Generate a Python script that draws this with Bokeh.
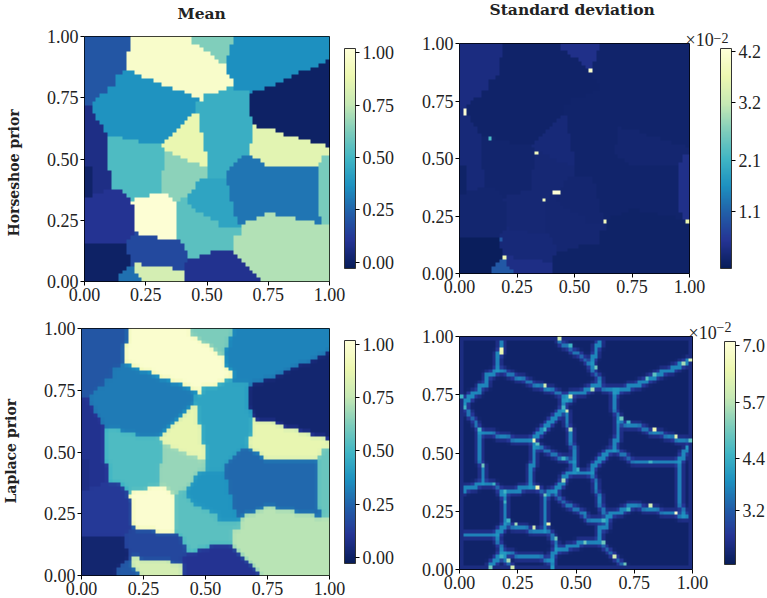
import numpy as np
from bokeh.embed import file_html
from bokeh.layouts import column, row
from bokeh.models import ColorBar, FixedTicker, Label, LinearColorMapper, PrintfTickFormatter, Range1d
from bokeh.plotting import figure
from bokeh.resources import INLINE

# Colour anchors (YlGnBu reversed)
ANCHORS = ["#081d58", "#253494", "#225ea8", "#1d91c0", "#41b6c4", "#7fcdbb", "#c7e9b4", "#edf8b1", "#ffffd9"]

# Region outlines on a ruler where x 73..808 and y 780..46 span the axes
R_TOPLEFT = [(73,46),(210,46),(210,90),(198,90),(198,148),(175,160),(165,170),(165,195),(140,195),(140,215),(105,230),(95,255),(73,252)]
R_CREAM_TOP = [(210,46),(395,46),(395,65),(440,90),(480,125),(500,130),(500,150),(522,185),(488,207),(430,225),(425,240),(418,232),(360,210),(280,180),(225,158),(198,148),(198,90),(210,90)]
R_TEAL_TOP = [(395,46),(522,46),(510,95),(500,112),(500,130),(480,125),(440,90),(395,65)]
R_BLUE_TOPRIGHT = [(522,46),(808,46),(808,112),(745,145),(640,190),(570,215),(555,205),(525,205),(522,185),(500,150),(500,112),(510,95)]
R_BLUE_LEFT = [(198,148),(225,158),(280,180),(360,210),(418,232),(405,262),(395,285),(350,320),(310,365),(255,365),(185,350),(140,345),(130,310),(105,285),(95,255),(105,230),(140,215),(140,195),(165,195),(165,170),(175,160)]
R_STRIP = [(73,252),(95,255),(105,285),(130,310),(140,345),(140,450),(153,450),(153,505),(73,528)]
R_PATCH = [(73,435),(95,435),(95,528),(73,528)]
R_MID_TOP = [(418,232),(425,240),(430,225),(488,207),(525,205),(555,205),(568,235),(570,285),(580,310),(578,350),(568,380),(568,400),(545,403),(500,450),(500,470),(440,470),(440,435),(430,345),(418,320),(418,290),(405,262)]
R_NAVY_RIGHT = [(570,215),(640,190),(745,145),(808,112),(808,378),(765,365),(720,350),(685,345),(638,325),(600,320),(580,310),(570,285),(568,235)]
R_LIGHT_RIGHT = [(580,310),(600,320),(638,325),(685,345),(720,350),(765,365),(808,378),(808,403),(787,403),(775,435),(615,435),(600,415),(568,400),(568,380),(578,350)]
R_TEAL_FAR = [(787,403),(808,403),(808,610),(787,610),(775,575),(775,435)]
R_BLUE_RIGHT = [(500,450),(545,403),(568,400),(600,415),(615,435),(775,435),(775,575),(787,610),(765,610),(765,597),(720,597),(685,585),(625,575),(590,590),(555,600),(555,610),(533,610),(520,555),(510,520),(510,495),(500,490)]
R_GREEN_BR = [(545,620),(555,600),(590,590),(625,575),(685,585),(720,597),(765,610),(808,610),(808,780),(603,780),(580,755),(545,720),(522,692),(522,645),(545,645)]
R_NAVY_BC = [(372,722),(395,715),(418,703),(465,690),(522,692),(545,720),(580,755),(603,780),(372,780)]
R_TEAL_BC = [(350,540),(383,525),(383,550),(418,575),(475,605),(478,622),(533,622),(545,645),(522,645),(522,692),(465,690),(418,703),(395,715),(372,680),(360,655),(350,655)]
R_MEDIUM = [(385,520),(418,475),(500,470),(500,490),(510,495),(510,520),(520,555),(533,610),(533,622),(478,622),(475,605),(418,575),(383,550)]
R_GREEN_MID = [(315,390),(360,405),(395,425),(440,435),(440,470),(418,475),(385,520),(350,540),(325,520),(303,515),(303,460),(315,440)]
R_YELLOW_MID = [(405,262),(418,290),(418,320),(430,345),(440,435),(395,425),(360,405),(315,390),(303,370),(310,365),(350,320),(395,285)]
R_TEAL_ML = [(140,345),(185,350),(255,365),(310,365),(303,370),(315,390),(315,440),(303,460),(303,515),(280,518),(232,530),(210,540),(187,507),(153,505),(153,450),(140,450)]
R_CREAM_BOT = [(210,540),(232,530),(280,518),(325,520),(350,540),(350,655),(315,655),(280,645),(255,645),(222,632),(222,565)]
R_LOWLEFT = [(73,528),(153,505),(187,507),(210,540),(222,565),(222,632),(198,668),(73,668)]
R_NAVY_BL = [(73,668),(198,668),(198,700),(210,700),(210,735),(187,745),(175,780),(73,780)]
R_BLUE_BOT = [(198,668),(222,632),(255,645),(280,645),(315,655),(360,655),(372,680),(395,715),(372,722),(372,745),(340,745),(335,735),(268,737),(240,725),(222,725),(210,735),(210,700),(198,700)]
R_YELLOW_BOT = [(222,725),(240,725),(268,737),(335,735),(340,745),(372,745),(372,780),(245,780),(245,770),(222,745)]
R_SMALL = [(187,745),(210,735),(222,725),(222,745),(245,770),(245,780),(175,780)]

REGIONS = [R_TOPLEFT, R_CREAM_TOP, R_TEAL_TOP, R_BLUE_TOPRIGHT, R_BLUE_LEFT, R_STRIP, R_PATCH, R_MID_TOP,
           R_NAVY_RIGHT, R_LIGHT_RIGHT, R_TEAL_FAR, R_BLUE_RIGHT, R_GREEN_BR, R_NAVY_BC, R_TEAL_BC, R_MEDIUM,
           R_GREEN_MID, R_YELLOW_MID, R_TEAL_ML, R_CREAM_BOT, R_LOWLEFT, R_NAVY_BL, R_BLUE_BOT, R_YELLOW_BOT, R_SMALL]

# Per-region values, same order as REGIONS
MEAN_HORSESHOE = [.21,.97,.63,.36,.37,.07,.01,.47,.0,.85,.61,.29,.72,.09,.55,.43,.65,.88,.52,1.0,.10,.0,.17,.80,.28]
STD_HORSESHOE = [.36,.17,.45,.18,.16,.30,.15,.18,.18,.24,.45,.18,.15,.15,.25,.24,.27,.30,.20,.27,.22,.05,.30,.42,1.0]
MEAN_LAPLACE = [.21,.98,.62,.33,.31,.09,.07,.43,.02,.87,.58,.26,.73,.10,.55,.38,.67,.87,.52,.99,.12,.02,.16,.80,.22]
STD_LAPLACE_BASE = 2.14
STD_LAPLACE_EDGE = 4.3
STD_LAPLACE_BORDER = 2.4

# Isolated pixels of the horseshoe std panel: x, y, value (x10^-2)
HS_SPOT_X = [.571,.02,.02,.132,.336,.41,.43,.367,.633,.991,.194,.18]
HS_SPOT_Y = [.884,.70,.715,.587,.525,.35,.35,.32,.225,.225,.067,.148]
HS_SPOT_V = [4.1,4.2,4.2,2.2,3.9,4.2,4.2,3.9,3.9,3.7,3.8,1.0]

# Bright pixels of the Laplace std panel: x, y, value (x10^-2)
LP_SPOT_X = [.178,.178,.989,.963,.837,.805,.587,.368,.476,.573,.669,.433,.476,.447,.458,.476,.361,.321,.329,.441,.507,.447,.337,.368,.203,.196,.246,.21,.321,.383,.415,.54,.612,.665,.712,.722,.822,.934,.837,.934,.698,.729,.822,.1,.146,.085,.02,.007,.21,.182,.225,.132,.622,.991,.984,.397]
LP_SPOT_Y = [.94,.93,.90,.883,.835,.828,.867,.789,.742,.774,.76,.99,.963,.692,.678,.607,.606,.554,.537,.477,.427,.38,.348,.322,.331,.286,.191,.205,.177,.192,.131,.115,.115,.058,.016,.252,.269,.238,.599,.569,.646,.631,.465,.441,.364,.603,.70,.742,.036,.054,.004,.007,.212,.55,.521,.004]
LP_SPOT_V = [6.5,6.4,6.0,5.5,4.8,4.8,5.0,6.0,6.0,5.5,4.0,6.0,4.5,4.5,6.0,5.5,4.5,6.5,4.8,4.5,4.5,5.5,6.5,5.0,4.5,4.5,5.5,4.5,6.0,6.5,5.0,5.0,5.0,6.0,5.0,4.5,6.0,7.0,6.5,6.2,5.0,4.5,4.5,5.0,4.5,4.5,4.5,4.5,5.5,4.5,6.0,5.0,4.5,4.8,4.0,4.0]

TICKS = [0, .25, .5, .75, 1]
MEAN_CB_TICKS = [0, .25, .5, .75, 1]
HS_CB_TICKS = [1.1, 2.1, 3.2, 4.2]
LP_CB_TICKS = [3.2, 4.4, 5.7, 7.0]

N = 64
FONT = "Liberation Serif"
TITLE_FONT = "DejaVu Serif"
INK = "#222222"


def build_palette():
    rgb = np.array([[int(c[i:i + 2], 16) for i in (1, 3, 5)] for c in ANCHORS], float)
    t = np.linspace(0, 1, 256)
    s = np.linspace(0, 1, len(ANCHORS))
    return ["#%02x%02x%02x" % tuple(int(round(np.interp(u, s, rgb[:, k]))) for k in range(3)) for u in t]


PALETTE = build_palette()


def in_poly(px, py, poly):
    xs = np.array([(a - 73) / 735 for a, _ in poly])
    ys = np.array([(780 - b) / 734 for _, b in poly])
    inside = np.zeros(px.shape, bool)
    for i in range(len(xs)):
        j = (i + 1) % len(xs)
        cond = (ys[i] > py) != (ys[j] > py)
        with np.errstate(divide="ignore", invalid="ignore"):
            xc = (xs[j] - xs[i]) * (py - ys[i]) / (ys[j] - ys[i]) + xs[i]
        inside ^= cond & (px < xc)
    return inside


centres = (np.arange(N) + .5) / N
GX, GY = np.meshgrid(centres, centres)
labels = -np.ones((N, N), int)
for k, poly in enumerate(REGIONS):
    labels[in_poly(GX, GY, poly)] = k
known = labels >= 0
for r, c in np.argwhere(~known):
    d = (GX[known] - GX[r, c]) ** 2 + (GY[known] - GY[r, c]) ** 2
    labels[r, c] = labels[known][np.argmin(d)]


def soft(a, w):
    out = a.copy()
    for axis in (0, 1):
        out = (1 - 2 * w) * out + w * (np.roll(out, 1, axis) + np.roll(out, -1, axis))
    return out


def spots(a, xs, ys, vs):
    for x, y, v in zip(xs, ys, vs):
        a[min(int(y * N), N - 1), min(int(x * N), N - 1)] = v
    return a


img_a = np.array(MEAN_HORSESHOE)[labels]
img_b = spots(np.array(STD_HORSESHOE)[labels], HS_SPOT_X, HS_SPOT_Y, HS_SPOT_V)
img_c = soft(np.pad(np.array(MEAN_LAPLACE)[labels], 1, mode="edge"), .04)[1:-1, 1:-1]

merged = labels.copy()
merged[merged == REGIONS.index(R_PATCH)] = REGIONS.index(R_STRIP)
edge = np.zeros((N, N), bool)
edge[:, :-1] |= merged[:, :-1] != merged[:, 1:]
edge[:-1, :] |= merged[:-1, :] != merged[1:, :]
img_d = np.full((N, N), STD_LAPLACE_BASE)
img_d[edge] = STD_LAPLACE_EDGE
img_d = soft(np.pad(img_d, 1, mode="edge"), .14)[1:-1, 1:-1]
img_d[0, :] = img_d[-1, :] = STD_LAPLACE_BORDER
img_d[:, 0] = img_d[:, -1] = STD_LAPLACE_BORDER
img_d = spots(img_d, LP_SPOT_X, LP_SPOT_Y, LP_SPOT_V)


def panel(img, low, high, cb_ticks, cb_fmt, w, h, fw, fh, left, top, cb_x, cb_y, cb_h):
    p = figure(width=w, height=h, frame_width=fw, frame_height=fh, x_range=Range1d(0, 1), y_range=Range1d(0, 1),
               toolbar_location=None, output_backend="svg", min_border_left=left, min_border_top=top,
               min_border_right=w - left - fw, min_border_bottom=h - top - fh, frame_align=False)
    p.xgrid.visible = False
    p.ygrid.visible = False
    mapper = LinearColorMapper(palette=PALETTE, low=low, high=high)
    p.image(image=[img], x=0, y=0, dw=1, dh=1, color_mapper=mapper)
    p.outline_line_color = "black"
    p.outline_line_width = 1
    for ax in (p.xaxis[0], p.yaxis[0]):
        ax.ticker = FixedTicker(ticks=TICKS)
        ax.formatter = PrintfTickFormatter(format="%.2f")
        ax.major_label_text_font = FONT
        ax.major_label_text_font_size = "18px"
        ax.major_label_text_color = INK
        ax.major_tick_in = 0
        ax.major_tick_out = 4
        ax.minor_tick_line_color = None
        ax.axis_line_color = None
        ax.major_label_standoff = 2
    p.yaxis[0].major_label_orientation = "horizontal"
    cb = ColorBar(color_mapper=mapper, location=(cb_x, cb_y), width=11, height=cb_h, padding=0, margin=0,
                  ticker=FixedTicker(ticks=cb_ticks), formatter=PrintfTickFormatter(format=cb_fmt),
                  major_label_text_font=FONT, major_label_text_font_size="18px", major_label_text_color=INK,
                  major_tick_in=0, major_tick_out=4, major_tick_line_color="black",
                  bar_line_color="#333333", border_line_color=None, background_fill_color=None,
                  label_standoff=3, minor_tick_line_color=None)
    p.add_layout(cb, "center")
    return p


def note(p, side, x, y, s, size, font=FONT, style="normal", angle=0):
    p.add_layout(Label(x=x, y=y, x_units="screen", y_units="screen", text=s, text_font=font,
                       text_font_size=f"{size}px", text_font_style=style, text_color=INK, angle=angle), side)


fa = panel(img_a, -.03, 1.02, MEAN_CB_TICKS, "%.2f", 394, 306, 245, 245, 84, 36, 260, 13, 220)
fb = panel(img_b, .01, 4.25, HS_CB_TICKS, "%.1f", 373, 306, 230, 230, 65, 43, 261, 5, 220)
fc = panel(img_c, -.03, 1.02, MEAN_CB_TICKS, "%.2f", 394, 292, 248, 247, 81, 22, 263, 12, 223)
fd = panel(img_d, 1.95, 7.1, LP_CB_TICKS, "%.1f", 373, 292, 233, 233, 65, 29, 265, 5, 223)

note(fa, "above", 93, 14, "Mean", 15.5, TITLE_FONT, "bold")
note(fb, "above", 226, -6, "×10", 18)
note(fb, "above", 30, 5, "Standard deviation", 15.5, TITLE_FONT, "bold")
note(fb, "right", 24, 231, "−2", 14)
note(fd, "above", 229, -6, "×10", 18)
note(fd, "above", 257, -15, "−2", 14)
note(fa, "left", -6, 45, "Horseshoe prior", 14, TITLE_FONT, "bold", np.pi / 2)
note(fc, "left", -6, 72, "Laplace prior", 14, TITLE_FONT, "bold", np.pi / 2)

page = column(row(fa, fb, spacing=0), row(fc, fd, spacing=0), spacing=0)
open("out.html", "w").write(file_html(page, INLINE))
